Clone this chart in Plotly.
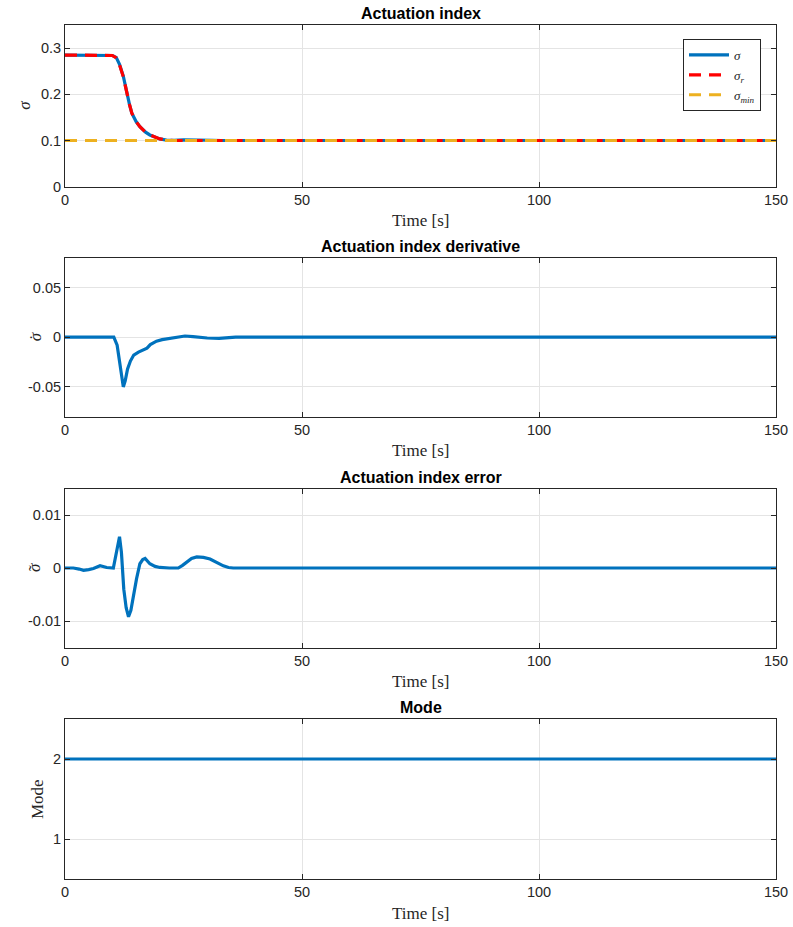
import plotly.graph_objects as go

# ---------------- data ----------------
t_sigma = [0, 5, 9, 10, 10.8, 11.5, 12.3, 13.0, 13.6, 14.1, 15.0, 15.8, 17.0, 17.9, 19.0, 20.0,
           21.4, 23.0, 25.0, 27.0, 29.0, 31.0, 33.0, 40.0, 150.0]
sigma = [0.285, 0.285, 0.285, 0.284, 0.280, 0.265, 0.239, 0.203, 0.178, 0.159, 0.141, 0.130,
         0.118, 0.112, 0.107, 0.1035, 0.1008, 0.1002, 0.1012, 0.1015, 0.1013, 0.1005, 0.1, 0.1, 0.1]
t_sigma_r = [0, 5, 9, 10, 10.8, 11.5, 12.3, 13.0, 13.6, 14.1, 15.0, 15.8, 17.0, 17.9, 19.0, 20.0,
             21.4, 23.0, 150.0]
sigma_r = [0.285, 0.285, 0.285, 0.284, 0.279, 0.264, 0.238, 0.202, 0.178, 0.159, 0.141, 0.130,
           0.118, 0.112, 0.107, 0.1035, 0.1008, 0.1, 0.1]
t_sigma_min = [0, 150]
sigma_min = [0.1, 0.1]

t_dot = [0, 2, 3, 5, 6.5, 8, 9.5, 10.3, 11.0, 11.5, 12.0, 12.3, 12.7, 13.2, 13.8, 14.5, 15.5,
         16.5, 17.3, 18.0, 19.3, 20.5, 22.2, 24.0, 25.3, 27.0, 28.5, 30.0, 32.5, 34.0, 36.0, 150.0]
sigma_dot = [0, 0, -0.0003, 0.0002, 0.0003, -0.0002, 0.0002, 0, -0.008, -0.025, -0.045, -0.050,
             -0.044, -0.032, -0.024, -0.018, -0.015, -0.013, -0.011, -0.0075, -0.004, -0.0025,
             -0.001, 0.0005, 0.0012, 0.0005, -0.0002, -0.0008, -0.0012, -0.0008, 0, 0]

t_err = [0, 1.75, 3.0, 3.9, 5.0, 6.0, 7.4, 8.8, 10.2, 10.8, 11.5, 11.9, 12.4, 12.9, 13.4, 13.9,
         14.4, 15.1, 15.8, 16.4, 16.9, 17.4, 17.9, 19.0, 20.0, 22.0, 23.9, 24.8, 25.7, 26.7,
         27.8, 29.2, 30.6, 32.0, 33.4, 34.5, 35.5, 150.0]
sigma_err = [0, 0, -0.0002, -0.00043, -0.0003, -0.0001, 0.00043, 0.0001, 0, 0.0025, 0.0059,
             0.0030, -0.0040, -0.0075, -0.0092, -0.0080, -0.0052, -0.0020, 0.0008, 0.0016,
             0.0018, 0.0014, 0.0008, 0.0003, 0.0001, 0, 0, 0.0005, 0.0012, 0.0018, 0.0021,
             0.0020, 0.0017, 0.0010, 0.0004, 0.0001, 0, 0]

t_mode = [0, 150]
mode = [2, 2]

titles = ["Actuation index", "Actuation index derivative", "Actuation index error", "Mode"]
ylabels = ["σ", "σ", "σ", "Mode"]
yaccents = [None, "\u02d9", "\u02dc", None]
yranges = [[0, 0.35], [-0.08, 0.08], [-0.015, 0.015], [0.5, 2.5]]
ytickvals = [[0, 0.1, 0.2, 0.3], [-0.05, 0, 0.05], [-0.01, 0, 0.01], [1, 2]]
yticktext = [["0", "0.1", "0.2", "0.3"], ["-0.05", "0", "0.05"], ["-0.01", "0", "0.01"], ["1", "2"]]
xtickvals = [0, 50, 100, 150]

# ---------------- layout geometry ----------------
W, H = 793, 927
L, R, T, B = 65, 17, 25, 48
ph = H - T - B
panels_px = [(25, 186.7), (257.7, 416.7), (488.5, 647.5), (719, 879)]
ylabel_x = [25, 35, 35, 37]


def py2paper(py):
    return (H - B - py) / ph


def px2paper(px):
    return (px - L) / (W - L - R)


BLUE = "#0072BD"
RED = "#FF0000"
YEL = "#EDB120"
AX = "#262626"
GRID = "#e4e4e4"
SANS = "Liberation Sans, Arial, sans-serif"
SERIF = "Liberation Serif, Times New Roman, serif"

fig = go.Figure()

fig.add_trace(go.Scatter(x=t_sigma, y=sigma, mode="lines", line=dict(color=BLUE, width=3.2),
                         name="<i>σ</i>", xaxis="x", yaxis="y"))
fig.add_trace(go.Scatter(x=t_sigma_r, y=sigma_r, mode="lines",
                         line=dict(color=RED, width=3.2, dash="12px,8px"),
                         name="<i>σ<sub>r</sub></i>", xaxis="x", yaxis="y"))
fig.add_trace(go.Scatter(x=t_sigma_min, y=sigma_min, mode="lines",
                         line=dict(color=YEL, width=3.2, dash="12px,8px"),
                         name="<i>σ<sub>min</sub></i>", xaxis="x", yaxis="y"))
fig.add_trace(go.Scatter(x=t_dot, y=sigma_dot, mode="lines", line=dict(color=BLUE, width=3.2),
                         showlegend=False, xaxis="x2", yaxis="y2"))
fig.add_trace(go.Scatter(x=t_err, y=sigma_err, mode="lines", line=dict(color=BLUE, width=3.2),
                         showlegend=False, xaxis="x3", yaxis="y3"))
fig.add_trace(go.Scatter(x=t_mode, y=mode, mode="lines", line=dict(color=BLUE, width=3.2),
                         showlegend=False, xaxis="x4", yaxis="y4"))

layout = dict(
    width=W, height=H,
    margin=dict(l=L, r=R, t=T, b=B, autoexpand=False),
    paper_bgcolor="white", plot_bgcolor="white",
    font=dict(family=SANS, color=AX, size=14.5),
    legend=dict(x=px2paper(761), y=py2paper(39), xanchor="right", yanchor="top",
                bgcolor="white", bordercolor=AX, borderwidth=1,
                font=dict(family=SERIF, size=13, color=AX),
                itemwidth=40, tracegroupgap=0),
    annotations=[],
)

for i in range(4):
    sfx = "" if i == 0 else str(i + 1)
    top, bot = panels_px[i]
    dom = [py2paper(bot), py2paper(top)]
    layout["xaxis" + sfx] = dict(
        domain=[0, 1], anchor="y" + sfx, range=[0, 150], automargin=False,
        tickvals=xtickvals, ticktext=[str(v) for v in xtickvals],
        showgrid=True, gridcolor=GRID, gridwidth=1, zeroline=False,
        showline=True, linecolor=AX, linewidth=1, mirror="ticks",
        ticks="inside", ticklen=5, tickcolor=AX, tickwidth=1,
        tickfont=dict(family=SANS, size=14.5, color=AX),
    )
    layout["yaxis" + sfx] = dict(
        domain=dom, anchor="x" + sfx, range=yranges[i], automargin=False,
        tickvals=ytickvals[i], ticktext=yticktext[i],
        showgrid=True, gridcolor=GRID, gridwidth=1, zeroline=False,
        showline=True, linecolor=AX, linewidth=1, mirror="ticks",
        ticks="inside", ticklen=5, tickcolor=AX, tickwidth=1,
        tickfont=dict(family=SANS, size=14.5, color=AX),
    )
    # title
    layout["annotations"].append(dict(
        text="<b>" + titles[i] + "</b>", xref="paper", yref="paper",
        x=0.5, y=dom[1], xanchor="center", yanchor="bottom", yshift=1,
        showarrow=False, font=dict(family=SANS, size=16, color="black")))
    # x label
    layout["annotations"].append(dict(
        text="Time [s]", xref="paper", yref="paper",
        x=0.5, y=dom[0], xanchor="center", yanchor="middle", yshift=-34,
        showarrow=False, font=dict(family=SERIF, size=17, color=AX)))
    # y label
    ylab = ylabels[i] if i == 3 else "<i>" + ylabels[i] + "</i>"
    ymid = (dom[0] + dom[1]) / 2
    layout["annotations"].append(dict(
        text=ylab, xref="paper", yref="paper",
        x=px2paper(ylabel_x[i]), y=ymid, xanchor="center", yanchor="middle",
        textangle=-90, showarrow=False, font=dict(family=SERIF, size=17, color=AX)))
    if yaccents[i]:
        layout["annotations"].append(dict(
            text=yaccents[i], xref="paper", yref="paper",
            x=px2paper(ylabel_x[i]), y=ymid, xanchor="center", yanchor="middle",
            textangle=-90, showarrow=False, font=dict(family=SERIF, size=17, color=AX)))

fig.update_layout(**layout)
fig.write_html("out.html")
